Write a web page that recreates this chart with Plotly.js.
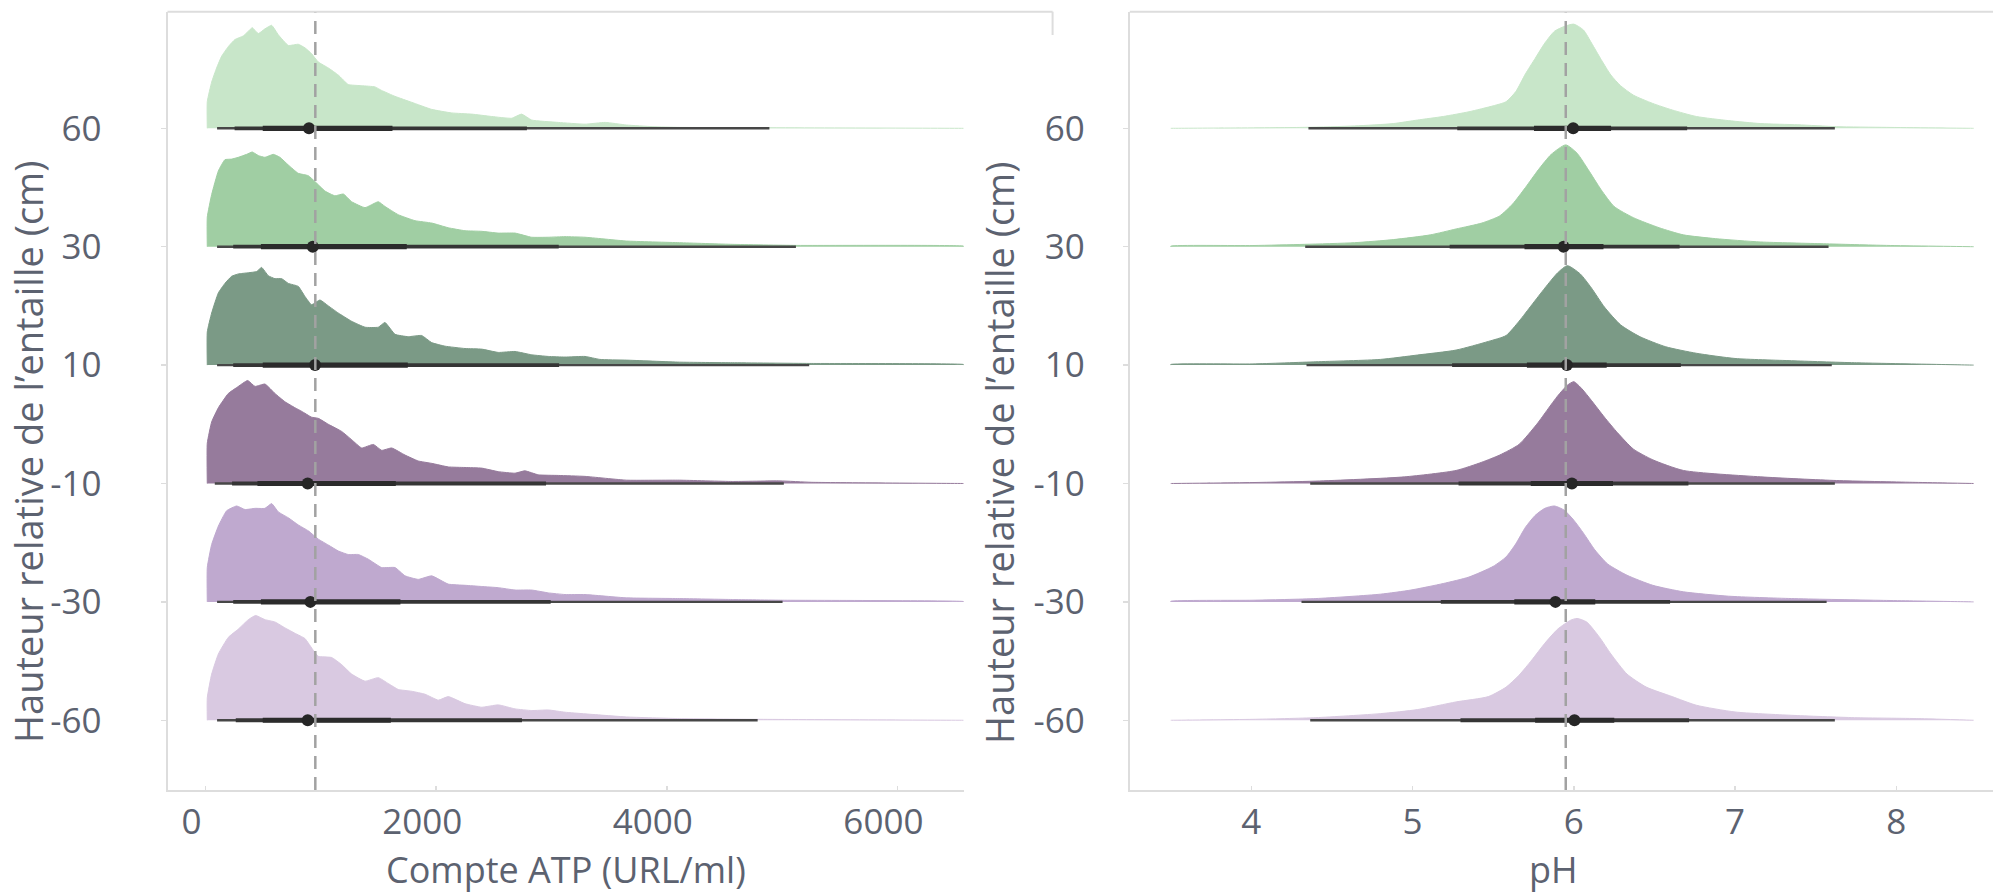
<!DOCTYPE html>
<html>
<head>
<meta charset="utf-8">
<script src="https://cdn.plot.ly/plotly-3.0.1.min.js"></script>
<style>html,body{margin:0;padding:0;background:#fff;}#chart{width:1993px;height:894px;}</style>
</head>
<body>
<div id="chart"></div>
<script>
// ---------- DATA ----------
// rows, top to bottom
const rowLabels = ['60', '30', '10', '-10', '-30', '-60'];
const rowColors = ['#c8e6c9', '#a0cea3', '#7b9a86', '#967b9c', '#bfa9cf', '#d9c9e1'];

// ATP density outlines (x in URL/ml, height as fraction of row spacing)
const atp60X = [15,53,96,140,197,255,327,371,405,457,515,573,631,718,804,862,920,978,1065,1151,1238,1354,1469,1527,1643,1787,1961,2134,2308,2481,2654,2741,2828,3059,3291,3466,3650,3880,4109,4568,6575];
const atp60H = [0.225,0.39,0.51,0.61,0.69,0.75,0.78,0.82,0.85,0.80,0.84,0.87,0.79,0.70,0.71,0.68,0.63,0.56,0.51,0.45,0.37,0.36,0.35,0.32,0.27,0.22,0.16,0.13,0.12,0.10,0.085,0.12,0.07,0.05,0.035,0.05,0.028,0.014,0.008,0.006,0];
const atp30X = [15,53,111,168,226,284,356,405,457,515,588,645,718,804,891,949,1036,1122,1195,1267,1383,1498,1556,1672,1816,1961,2105,2250,2394,2539,2684,2828,2973,3117,3291,3650,4109,4568,5120,6575];
const atp30H = [0.25,0.44,0.64,0.735,0.74,0.755,0.78,0.80,0.77,0.755,0.78,0.755,0.69,0.62,0.60,0.55,0.47,0.43,0.445,0.38,0.33,0.38,0.34,0.27,0.22,0.20,0.16,0.135,0.13,0.115,0.115,0.08,0.08,0.085,0.08,0.048,0.034,0.02,0.011,0.005];
const atp10X = [15,53,111,168,226,284,371,443,486,544,602,660,718,804,862,920,992,1065,1151,1267,1383,1498,1556,1643,1758,1874,1961,2076,2250,2394,2539,2684,2828,2973,3117,3291,3420,3650,4109,4568,5235,6575];
const atp10H = [0.28,0.44,0.61,0.69,0.75,0.77,0.78,0.79,0.825,0.755,0.73,0.73,0.69,0.665,0.58,0.51,0.55,0.50,0.44,0.37,0.32,0.32,0.36,0.26,0.24,0.25,0.19,0.16,0.14,0.135,0.107,0.115,0.087,0.073,0.068,0.073,0.048,0.042,0.025,0.02,0.014,0.005];
const atpM10X = [15,53,111,197,270,365,429,515,602,689,775,833,920,978,1065,1180,1267,1354,1455,1527,1614,1730,1845,1961,2105,2250,2394,2539,2684,2770,2886,3059,3291,3650,4109,4568,4981,5257,6575];
const atpM10H = [0.34,0.52,0.64,0.76,0.81,0.87,0.82,0.84,0.76,0.69,0.64,0.61,0.56,0.55,0.50,0.44,0.37,0.30,0.33,0.28,0.30,0.24,0.19,0.17,0.14,0.135,0.13,0.10,0.087,0.107,0.073,0.068,0.06,0.028,0.028,0.017,0.022,0.01,0];
const atpM30X = [15,53,111,183,270,342,429,515,573,631,718,804,891,978,1065,1151,1238,1325,1412,1527,1643,1730,1845,1961,2105,2250,2394,2539,2684,2828,2973,3117,3291,3650,4109,4568,5004,6575];
const atpM30H = [0.29,0.485,0.64,0.77,0.81,0.78,0.79,0.79,0.83,0.76,0.71,0.65,0.60,0.53,0.48,0.43,0.40,0.40,0.36,0.29,0.29,0.22,0.19,0.22,0.15,0.14,0.13,0.12,0.10,0.10,0.076,0.062,0.062,0.034,0.028,0.02,0.014,0.003];
const atpM60X = [15,53,111,197,284,371,434,515,602,689,775,862,935,978,1094,1180,1267,1383,1498,1585,1672,1787,1903,2019,2105,2250,2394,2539,2684,2828,2973,3117,3291,3650,4109,4788,6575];
const atpM60H = [0.19,0.39,0.56,0.70,0.77,0.85,0.885,0.85,0.83,0.78,0.735,0.69,0.59,0.54,0.53,0.47,0.39,0.33,0.36,0.31,0.26,0.245,0.22,0.17,0.20,0.14,0.11,0.13,0.096,0.082,0.087,0.068,0.054,0.028,0.014,0.008,0];

// ATP intervals (rows top to bottom)
const atpOuterLo = [100, 100, 100, 80, 100, 100];
const atpOuterHi = [4890, 5120, 5235, 5015, 5004, 4788];
const atpMidLo   = [252, 240, 240, 230, 240, 262];
const atpMidHi   = [2787, 3063, 3066, 2953, 2993, 2744];
const atpInnerLo = [496, 480, 496, 450, 480, 496];
const atpInnerHi = [1621, 1745, 1754, 1650, 1690, 1607];
const atpMedian  = [897, 930, 950, 886, 909, 886];
const atpRef = 952;

// pH density outlines
const ph60X = [3.50,4.33,4.64,4.88,5.03,5.19,5.35,5.50,5.58,5.64,5.70,5.76,5.82,5.88,5.94,6.00,6.06,6.11,6.17,6.23,6.29,6.37,6.49,6.61,6.76,6.96,7.16,7.39,7.63,7.94,8.48];
const ph60H = [0,0.008,0.02,0.04,0.07,0.10,0.14,0.19,0.225,0.31,0.46,0.59,0.72,0.82,0.86,0.88,0.83,0.72,0.58,0.45,0.36,0.28,0.21,0.155,0.10,0.065,0.04,0.03,0.014,0.008,0];
const ph30X = [3.50,4.01,4.33,4.64,4.88,5.11,5.27,5.43,5.54,5.62,5.70,5.78,5.86,5.95,6.02,6.09,6.17,6.25,6.37,6.53,6.68,6.88,7.16,7.55,7.94,8.48];
const ph30H = [0.005,0.01,0.02,0.034,0.06,0.10,0.15,0.20,0.26,0.36,0.50,0.65,0.78,0.86,0.79,0.65,0.48,0.34,0.245,0.16,0.10,0.068,0.04,0.025,0.011,0];
const ph10X = [3.50,4.01,4.40,4.80,5.03,5.27,5.47,5.58,5.66,5.74,5.82,5.90,5.96,6.04,6.11,6.19,6.29,6.41,6.57,6.76,7.00,7.35,7.74,8.48];
const ph10H = [0.005,0.01,0.028,0.048,0.085,0.127,0.20,0.25,0.37,0.51,0.65,0.78,0.84,0.77,0.65,0.49,0.34,0.24,0.155,0.10,0.056,0.037,0.02,0];
const phM10X = [3.50,4.01,4.40,4.95,5.27,5.43,5.54,5.66,5.77,5.84,5.90,5.96,6.00,6.05,6.11,6.19,6.27,6.37,6.49,6.68,7.16,7.63,8.10,8.48];
const phM10H = [0,0.008,0.02,0.056,0.11,0.18,0.24,0.33,0.50,0.63,0.74,0.83,0.86,0.80,0.70,0.56,0.43,0.29,0.20,0.11,0.056,0.025,0.01,0];
const phM30X = [3.50,4.01,4.40,4.80,4.99,5.19,5.35,5.50,5.58,5.64,5.70,5.76,5.82,5.88,5.94,6.00,6.06,6.13,6.21,6.33,6.49,6.68,6.96,7.35,7.86,8.48];
const phM30H = [0.005,0.014,0.028,0.065,0.10,0.155,0.21,0.30,0.38,0.49,0.63,0.73,0.79,0.81,0.775,0.69,0.58,0.44,0.32,0.225,0.14,0.085,0.048,0.028,0.014,0];
const phM60X = [3.50,4.01,4.40,4.80,5.03,5.27,5.47,5.58,5.66,5.74,5.82,5.90,5.98,6.02,6.08,6.16,6.23,6.33,6.45,6.61,6.76,7.00,7.35,7.74,8.14,8.48];
const phM60H = [0,0.008,0.022,0.056,0.09,0.155,0.20,0.28,0.38,0.51,0.65,0.77,0.845,0.86,0.83,0.70,0.56,0.39,0.28,0.20,0.127,0.07,0.042,0.022,0.014,0];

// pH intervals (rows top to bottom)
const phOuterLo = [4.354, 4.334, 4.342, 4.365, 4.311, 4.365];
const phOuterHi = [7.619, 7.580, 7.600, 7.619, 7.568, 7.619];
const phMidLo   = [5.277, 5.230, 5.245, 5.285, 5.175, 5.297];
const phMidHi   = [6.703, 6.656, 6.664, 6.711, 6.597, 6.715];
const phInnerLo = [5.753, 5.694, 5.709, 5.733, 5.631, 5.760];
const phInnerHi = [6.231, 6.184, 6.204, 6.243, 6.133, 6.251];
const phMedian  = [5.996, 5.937, 5.957, 5.988, 5.886, 6.004];
const phRef = 5.95;

const atpTicks = [0, 2000, 4000, 6000];
const phTicks = [4, 5, 6, 7, 8];

// ---------- BUILD ----------
const W = 1993, H = 894;
const px = v => v / W;
const py = v => 1 - v / H;
const textColor = '#5c6270';
const FONT = 'Open Sans, Noto Sans, sans-serif';
const nRows = rowLabels.length;

const atpDens = [[atp60X, atp60H], [atp30X, atp30H], [atp10X, atp10H], [atpM10X, atpM10H], [atpM30X, atpM30H], [atpM60X, atpM60H]];
const phDens = [[ph60X, ph60H], [ph30X, ph30H], [ph10X, ph10H], [phM10X, phM10H], [phM30X, phM30H], [phM60X, phM60H]];

const traces = [];
function addPanel(dens, iv, xa, ya, smooth) {
  dens.forEach(([xs, hs], i) => {
    const base = nRows - 1 - i;
    traces.push({
      type: 'scatter', mode: 'lines', xaxis: xa, yaxis: ya,
      x: [xs[0], ...xs, xs[xs.length - 1]],
      y: [base, ...hs.map(h => base + h), base],
      fill: 'toself', fillcolor: rowColors[i],
      line: { color: rowColors[i], width: 1, shape: 'spline', smoothing: smooth },
      hoverinfo: 'skip', showlegend: false
    });
  });
  dens.forEach((d, i) => {
    const base = nRows - 1 - i;
    const seg = (lo, hi, w, c) => traces.push({
      type: 'scatter', mode: 'lines', xaxis: xa, yaxis: ya,
      x: [lo[i], hi[i]], y: [base, base],
      line: { color: c, width: w }, hoverinfo: 'skip', showlegend: false
    });
    seg(iv.outerLo, iv.outerHi, 2.4, '#474747');
    seg(iv.midLo, iv.midHi, 3.8, '#353535');
    seg(iv.innerLo, iv.innerHi, 5.2, '#2b2b2b');
    traces.push({
      type: 'scatter', mode: 'markers', xaxis: xa, yaxis: ya,
      x: [iv.median[i]], y: [base],
      marker: { color: '#262626', size: 12 },
      hoverinfo: 'skip', showlegend: false
    });
  });
}
addPanel(atpDens, { outerLo: atpOuterLo, outerHi: atpOuterHi, midLo: atpMidLo, midHi: atpMidHi, innerLo: atpInnerLo, innerHi: atpInnerHi, median: atpMedian }, 'x', 'y', 0.4);
addPanel(phDens, { outerLo: phOuterLo, outerHi: phOuterHi, midLo: phMidLo, midHi: phMidHi, innerLo: phInnerLo, innerHi: phInnerHi, median: phMedian }, 'x2', 'y2', 0.6);

const yTickVals = rowLabels.map((_, i) => nRows - 1 - i);
const yRange = [-0.589, 5.985];
const yDomain = [py(790), py(11.7)];
const axisLine = '#dddddd';

const xCommon = {
  showgrid: false, zeroline: false, showline: true, linecolor: axisLine, linewidth: 2,
  ticks: 'inside', ticklen: 4, tickcolor: axisLine, tickwidth: 1.5,
  tickfont: { family: FONT, size: 35, color: textColor }, ticklabelstandoff: 0
};
const yCommon = {
  showgrid: false, zeroline: false, showline: true, linecolor: axisLine, linewidth: 2,
  ticks: 'outside', ticklen: 5, tickcolor: axisLine, tickwidth: 1.5,
  tickvals: yTickVals, ticktext: rowLabels, range: yRange, domain: yDomain,
  tickfont: { family: FONT, size: 35, color: textColor }
};

const layout = {
  width: W, height: H,
  margin: { l: 0, r: 0, t: 0, b: 0 },
  paper_bgcolor: '#ffffff', plot_bgcolor: '#ffffff',
  showlegend: false,
  xaxis: Object.assign({}, xCommon, { domain: [px(167.5), px(963.7)], range: [-330, 6575], tickvals: atpTicks, ticktext: atpTicks.map(String), anchor: 'y', ticklabelshift: -14 }),
  yaxis: Object.assign({}, yCommon, { anchor: 'x', ticklabelstandoff: 52 }),
  xaxis2: Object.assign({}, xCommon, { domain: [px(1129.8), 1], range: [3.246, 8.60], tickvals: phTicks, ticktext: phTicks.map(String), anchor: 'y2' }),
  yaxis2: Object.assign({}, yCommon, { anchor: 'x2', ticklabelstandoff: 31 }),
  shapes: [
    { type: 'line', xref: 'x', yref: 'paper', x0: atpRef, x1: atpRef, y0: yDomain[0], y1: yDomain[1], line: { color: '#a2a2a2', width: 2.5, dash: '13px,8px' }, layer: 'above' },
    { type: 'line', xref: 'x2', yref: 'paper', x0: phRef, x1: phRef, y0: yDomain[0], y1: yDomain[1], line: { color: '#a2a2a2', width: 2.5, dash: '13px,8px' }, layer: 'above' },
    { type: 'line', xref: 'paper', yref: 'paper', x0: px(167.5), x1: px(1052.6), y0: yDomain[1], y1: yDomain[1], line: { color: axisLine, width: 2 } },
    { type: 'line', xref: 'paper', yref: 'paper', x0: px(1052.6), x1: px(1052.6), y0: yDomain[1], y1: py(35), line: { color: axisLine, width: 2 } },
    { type: 'line', xref: 'paper', yref: 'paper', x0: px(1129.8), x1: 1, y0: yDomain[1], y1: yDomain[1], line: { color: axisLine, width: 2 } }
  ],
  annotations: [
    { text: 'Hauteur relative de l\u2019entaille (cm)', xref: 'paper', yref: 'paper', x: px(28), y: py(452), textangle: -90, showarrow: false, xanchor: 'center', yanchor: 'middle', font: { family: FONT, size: 38, color: textColor } },
    { text: 'Hauteur relative de l\u2019entaille (cm)', xref: 'paper', yref: 'paper', x: px(999), y: py(452), textangle: -90, showarrow: false, xanchor: 'center', yanchor: 'middle', font: { family: FONT, size: 38, color: textColor } },
    { text: 'Compte ATP (URL/ml)', xref: 'paper', yref: 'paper', x: px(565.6), y: py(869), showarrow: false, xanchor: 'center', yanchor: 'middle', font: { family: FONT, size: 36, color: textColor } },
    { text: 'pH', xref: 'paper', yref: 'paper', x: px(1553), y: py(869), showarrow: false, xanchor: 'center', yanchor: 'middle', font: { family: FONT, size: 36, color: textColor } }
  ]
};

Plotly.newPlot('chart', traces, layout, { displayModeBar: false, staticPlot: true });
</script>
</body>
</html>
